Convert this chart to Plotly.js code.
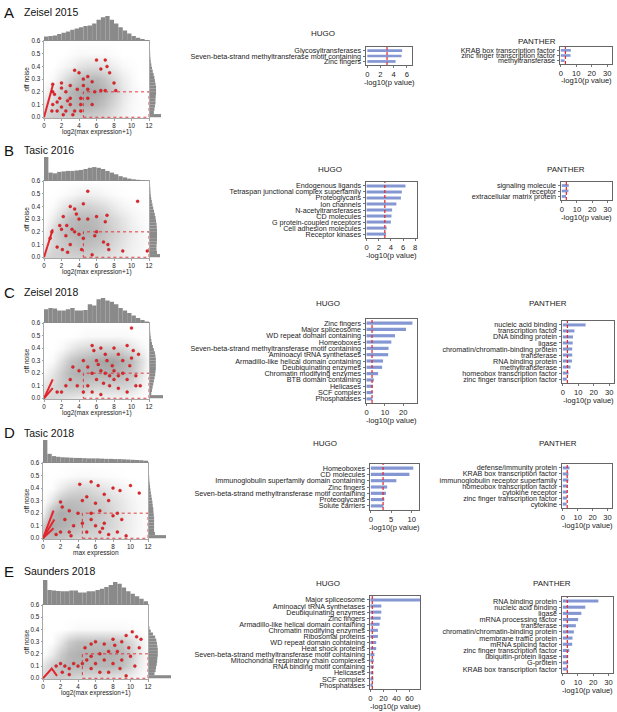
<!DOCTYPE html>
<html><head><meta charset="utf-8">
<script src="https://cdn.plot.ly/plotly-3.0.1.min.js"></script>
<style>html,body{margin:0;padding:0;background:#fff;}#chart{width:617px;height:712px;}</style>
</head><body><div id="chart"></div>
<script>
// ---------------- DATA ----------------
const panelLetters = ['A','B','C','D','E'];
const datasetTitles = ['Zeisel 2015','Tasic 2016','Zeisel 2018','Tasic 2018','Saunders 2018'];
const scatterXTitles = ['log2(max expression+1)','log2(max expression+1)','log2(max expression+1)','max expression','log2(max expression+1)'];
const scatterYTitle = 'off noise';
const scatterXTicks = [0,2,4,6,8,10,12];
const scatterYTicks = [0,0.1,0.2,0.3,0.4,0.5,0.6];
const exprThreshold = 4.5;
const noiseThreshold = 0.2;
const pThreshold = 3;
const barXTitle = '-log10(p value)';

// density of the grey point cloud (rows: off noise, cols: expression)
const cloudX = [0,1,2,3,4,5,6,7,8,9,10,11,12];
const cloudY = [0,0.1,0.2,0.3,0.4,0.5,0.6];
const cloudA = [
 [0.3,0.4,0.4,0.4,0.4,0.4,0.35,0.3,0.2,0.1,0.05,0,0],
 [0.2,0.3,0.45,0.55,0.6,0.6,0.55,0.45,0.3,0.15,0.05,0.02,0],
 [0.05,0.2,0.4,0.55,0.65,0.7,0.65,0.55,0.4,0.2,0.08,0.02,0],
 [0,0.05,0.2,0.35,0.5,0.55,0.55,0.45,0.3,0.15,0.05,0,0],
 [0,0,0.05,0.1,0.2,0.25,0.25,0.2,0.12,0.05,0.02,0,0],
 [0,0,0,0.02,0.05,0.05,0.05,0.05,0.02,0,0,0,0],
 [0,0,0,0,0,0,0,0,0,0,0,0,0]];
const cloudB = [
 [0.3,0.35,0.35,0.35,0.35,0.35,0.3,0.25,0.2,0.15,0.1,0.05,0.02],
 [0.15,0.3,0.4,0.45,0.5,0.5,0.45,0.4,0.3,0.2,0.12,0.08,0.03],
 [0.05,0.3,0.45,0.55,0.6,0.6,0.55,0.45,0.35,0.25,0.15,0.08,0.03],
 [0,0.15,0.35,0.5,0.55,0.55,0.5,0.4,0.3,0.2,0.1,0.05,0.02],
 [0,0.03,0.15,0.25,0.35,0.35,0.3,0.25,0.15,0.08,0.04,0.02,0],
 [0,0,0.02,0.05,0.1,0.12,0.1,0.06,0.03,0.01,0,0,0],
 [0,0,0,0,0,0,0,0,0,0,0,0,0]];
const cloudC = [
 [0.3,0.3,0.25,0.2,0.15,0.1,0.1,0.1,0.1,0.08,0.05,0.02,0],
 [0.2,0.3,0.4,0.45,0.45,0.4,0.35,0.35,0.35,0.35,0.3,0.15,0.02],
 [0.05,0.2,0.4,0.55,0.6,0.6,0.6,0.6,0.6,0.55,0.45,0.25,0.03],
 [0,0.05,0.25,0.45,0.55,0.6,0.65,0.7,0.7,0.6,0.5,0.3,0.05],
 [0,0,0.05,0.15,0.25,0.3,0.35,0.35,0.35,0.3,0.2,0.1,0.02],
 [0,0,0,0,0.02,0.05,0.05,0.05,0.05,0.05,0.03,0.01,0],
 [0,0,0,0,0,0,0,0,0,0,0,0,0]];
const cloudD = [
 [0.5,0.5,0.45,0.4,0.35,0.3,0.3,0.25,0.2,0.15,0.1,0.05,0.02],
 [0.4,0.65,0.6,0.55,0.5,0.45,0.4,0.35,0.3,0.2,0.12,0.06,0.02],
 [0.1,0.55,0.65,0.6,0.55,0.5,0.45,0.4,0.3,0.2,0.12,0.06,0.02],
 [0,0.2,0.45,0.5,0.5,0.45,0.4,0.35,0.25,0.18,0.1,0.05,0.02],
 [0,0.02,0.15,0.25,0.3,0.3,0.25,0.2,0.15,0.1,0.05,0.02,0],
 [0,0,0.01,0.03,0.05,0.05,0.04,0.03,0.02,0.01,0,0,0],
 [0,0,0,0,0,0,0,0,0,0,0,0,0]];
const cloudE = [
 [0.3,0.4,0.4,0.35,0.3,0.25,0.25,0.25,0.2,0.15,0.1,0.05,0],
 [0.2,0.4,0.5,0.55,0.55,0.55,0.55,0.55,0.55,0.5,0.35,0.15,0.02],
 [0,0.15,0.4,0.55,0.6,0.6,0.6,0.6,0.6,0.55,0.4,0.2,0.02],
 [0,0.02,0.2,0.4,0.5,0.5,0.5,0.5,0.5,0.45,0.3,0.15,0.02],
 [0,0,0,0.02,0.05,0.05,0.05,0.05,0.05,0.05,0.03,0.01,0],
 [0,0,0,0,0,0,0,0,0,0,0,0,0],
 [0,0,0,0,0,0,0,0,0,0,0,0,0]];

// highlighted (red) genes
const redXA = [1.0,1.2,1.5,1.5,1.8,2.0,2.0,2.0,2.2,2.5,2.5,2.7,3.0,3.0,3.0,3.3,3.5,3.5,3.8,4.0,4.2,4.2,4.2,4.5,4.5,5.0,5.0,5.0,5.5,5.5,5.8,6.0,6.5,6.5,7.0,7.0,7.2,7.5,8.0,8.2,1.0,1.0,0.9];
const redYA = [0.26,0.18,0.12,0.05,0.15,0.23,0.08,0.27,0.02,0.20,0.05,0.13,0.25,0.10,0.15,0.02,0.37,0.05,0.22,0.35,0.15,0.10,0.05,0.30,0.25,0.32,0.22,0.15,0.28,0.10,0.20,0.45,0.38,0.21,0.45,0.21,0.40,0.35,0.27,0.21,0.10,0.20,0.05];
const redXB = [5.0,10.7,4.5,3.0,3.5,2.2,4.0,5.0,6.0,7.2,7.0,1.8,2.0,2.6,3.2,3.5,2.5,4.0,4.5,5.8,6.0,6.8,7.4,7.3,9.0,11.8,3.0,2.1,1.5,4.3,5.5,0.7,0.9,3.7,2.7];
const redYB = [0.52,0.44,0.42,0.40,0.38,0.32,0.30,0.30,0.32,0.33,0.28,0.25,0.22,0.25,0.22,0.20,0.17,0.18,0.15,0.17,0.20,0.12,0.06,0.10,0.05,0.05,0.10,0.06,0.08,0.06,0.02,0.15,0.20,0.34,0.04];
const redXC = [10.0,5.5,6.5,7.0,8.0,9.5,10.2,5.7,4.5,6.0,7.2,8.5,9.0,10.0,3.3,4.0,5.0,5.5,6.5,7.0,7.5,8.0,8.5,9.0,9.5,10.5,6.0,6.8,7.5,8.5,9.5,10.5,5.0,4.5,3.0,2.5,2.0,1.5,5.5,6.5,8.0,3.8,7.8,6.2,9.8,11.0,10.8];
const redYC = [0.56,0.42,0.40,0.35,0.40,0.42,0.38,0.38,0.30,0.30,0.30,0.35,0.30,0.32,0.25,0.22,0.25,0.20,0.22,0.20,0.18,0.22,0.18,0.20,0.15,0.18,0.15,0.12,0.10,0.08,0.05,0.10,0.10,0.05,0.15,0.10,0.05,0.05,0.05,0.03,0.15,0.10,0.26,0.27,0.26,0.10,0.35];
const redXD = [4.2,5.5,6.3,8.0,8.8,10.0,11.0,7.0,5.0,4.5,6.0,7.5,2.0,2.2,3.0,4.0,5.5,6.5,8.0,8.5,9.0,7.0,6.0,5.0,6.5,7.5,8.5,9.5,2.0,3.0,3.5,4.5,5.5,6.8,2.5,1.5,3.2];
const redYD = [0.43,0.45,0.42,0.40,0.38,0.42,0.36,0.35,0.33,0.30,0.28,0.30,0.29,0.25,0.22,0.20,0.20,0.22,0.18,0.20,0.15,0.12,0.10,0.05,0.05,0.03,0.05,0.02,0.05,0.05,0.10,0.12,0.15,0.08,0.15,0.03,0.02];
const redXE = [10.2,9.5,10.7,8.0,9.0,7.0,6.0,11.0,9.8,8.5,7.5,6.5,5.5,5.0,4.5,6.0,7.0,8.0,9.0,10.0,10.5,8.8,7.5,9.5,6.5,5.5,4.0,3.5,3.0,2.5,2.0,1.5,2.2,3.0,4.8,5.5,11.2,8.2];
const redYE = [0.38,0.35,0.34,0.32,0.30,0.28,0.30,0.25,0.25,0.22,0.22,0.20,0.18,0.15,0.12,0.12,0.15,0.12,0.15,0.18,0.10,0.08,0.05,0.02,0.05,0.08,0.10,0.12,0.08,0.10,0.12,0.10,0.05,0.03,0.25,0.28,0.32,0.27];
// dense red streaks near the origin
const streakXA = [0,1.0], streakYA = [0,0.25];
const streakXB = [0,1.0], streakYB = [0,0.22];
const streakXC = [0,1.0,null,0,1.0], streakYC = [0,0.15,null,0,0.08];
const streakXD = [0,1.2,null,0,1.3,null,0,1.2], streakYD = [0,0.22,null,0,0.15,null,0,0.08];
const streakXE = [0,1.0,1.6], streakYE = [0,0.08,0.02];

// marginal histograms (relative heights)
const histXCenters = [0.25,0.75,1.25,1.75,2.25,2.75,3.25,3.75,4.25,4.75,5.25,5.75,6.25,6.75,7.25,7.75,8.25,8.75,9.25,9.75,10.25,10.75,11.25,11.75];
const histYCenters = [0.0125,0.0375,0.0625,0.0875,0.1125,0.1375,0.1625,0.1875,0.2125,0.2375,0.2625,0.2875,0.3125,0.3375,0.3625,0.3875,0.4125,0.4375,0.4625,0.4875,0.5125,0.5375,0.5625,0.5875];
const topHistA = [0.18,0.2,0.22,0.28,0.33,0.38,0.45,0.5,0.55,0.6,0.62,0.7,0.85,0.95,1.0,0.85,0.7,0.55,0.42,0.3,0.2,0.13,0.08,0.04];
const topHistB = [1.0,0.35,0.32,0.38,0.4,0.42,0.42,0.44,0.46,0.5,0.55,0.58,0.55,0.5,0.42,0.35,0.28,0.2,0.15,0.1,0.07,0.05,0.03,0.02];
const topHistC = [0.55,0.6,0.58,0.5,0.5,0.55,0.6,0.5,0.5,0.52,0.75,0.7,0.95,1.0,0.9,0.85,0.75,0.6,0.5,0.4,0.3,0.2,0.12,0.06];
const topHistD = [1.0,0.4,0.3,0.27,0.25,0.24,0.23,0.22,0.22,0.21,0.2,0.2,0.2,0.19,0.18,0.18,0.17,0.17,0.16,0.15,0.14,0.13,0.12,0.1];
const topHistE = [1.0,0.6,0.58,0.56,0.55,0.55,0.58,0.58,0.5,0.5,0.55,0.55,0.6,0.65,0.72,0.8,0.92,0.85,0.7,0.55,0.45,0.35,0.25,0.15];
const rightHistA = [1.0,0.35,0.4,0.45,0.5,0.5,0.52,0.55,0.55,0.55,0.5,0.45,0.4,0.33,0.25,0.18,0.12,0.07,0.04,0.02,0.01,0,0,0];
const rightHistB = [1.0,0.7,0.65,0.65,0.68,0.7,0.7,0.7,0.7,0.68,0.65,0.6,0.55,0.48,0.4,0.32,0.25,0.18,0.12,0.08,0.05,0.03,0.01,0];
const rightHistC = [1.0,0.1,0.15,0.2,0.25,0.3,0.35,0.4,0.42,0.45,0.45,0.45,0.45,0.42,0.38,0.3,0.22,0.15,0.1,0.06,0.03,0.01,0,0];
const rightHistD = [1.0,0.35,0.3,0.3,0.3,0.3,0.3,0.28,0.26,0.25,0.22,0.2,0.17,0.14,0.11,0.08,0.06,0.04,0.02,0.01,0,0,0,0];
const rightHistE = [1.0,0.25,0.3,0.32,0.35,0.37,0.38,0.4,0.4,0.4,0.38,0.36,0.33,0.28,0.18,0.08,0.02,0,0,0,0,0,0,0];

// enrichment bars
const hugoLabelsA = ['Glycosyltransferases','Seven-beta-strand methyltransferase motif containing','Zinc fingers'];
const hugoValuesA = [5.3,5.2,4.3];
const pantherLabelsA = ['KRAB box transcription factor','zinc finger transcription factor','methyltransferase'];
const pantherValuesA = [6.5,6.3,2.5];
const hugoLabelsB = ['Endogenous ligands','Tetraspan junctional complex superfamily','Proteoglycans','Ion channels','N-acetyltransferases','CD molecules','G protein-coupled receptors','Cell adhesion molecules','Receptor kinases'];
const hugoValuesB = [6.4,5.8,5.65,4.9,4.2,4.1,4.0,3.3,3.2];
const pantherLabelsB = ['signaling molecule','receptor','extracellular matrix protein'];
const pantherValuesB = [4.6,4.4,2.8];
const hugoLabelsC = ['Zinc fingers','Major spliceosome','WD repeat domain containing','Homeoboxes','Seven-beta-strand methyltransferase motif containing','Aminoacyl tRNA synthetases','Armadillo-like helical domain containing','Deubiquinating enzymes','Chromatin modifying enzymes','BTB domain containing','Helicases','SCF complex','Phosphatases'];
const hugoValuesC = [25,21.5,15.5,13.5,12,11.8,9,8.5,6.3,4,3.5,3.3,3.2];
const pantherLabelsC = ['nucleic acid binding','transcription factor','DNA binding protein','ligase','chromatin/chromatin-binding protein','transferase','RNA binding protein','methyltransferase','homeobox transcription factor','zinc finger transcription factor'];
const pantherValuesC = [14.7,7.5,6.6,6.4,6.1,6.1,5.9,5.0,3.7,2.6];
const hugoLabelsD = ['Homeoboxes','CD molecules','Immunoglobulin superfamily domain containing','Zinc fingers','Seven-beta-strand methyltransferase motif containing','Proteoglycans','Solute carriers'];
const hugoValuesD = [10.4,9.45,6.25,4.0,3.7,3.3,3.1];
const pantherLabelsD = ['defense/immunity protein','KRAB box transcription factor','immunoglobulin receptor superfamily','homeobox transcription factor','cytokine receptor','zinc finger transcription factor','cytokine'];
const pantherValuesD = [4.5,3.8,3.8,3.4,3.0,2.8,2.6];
const hugoLabelsE = ['Major spliceosome','Aminoacyl tRNA synthetases','Deubiquinating enzymes','Zinc fingers','Armadillo-like helical domain containing','Chromatin modifying enzymes','Ribosomal proteins','WD repeat domain containing','Heat shock proteins','Seven-beta-strand methyltransferase motif containing','Mitochondrial respiratory chain complexes','RNA binding motif containing','Helicases','SCF complex','Phosphatases'];
const hugoValuesE = [77,16.8,16.8,15.8,14.2,11.6,11.6,9,9,6.3,5.3,5.3,4.7,4.7,3.7];
const pantherLabelsE = ['RNA binding protein','nucleic acid binding','ligase','mRNA processing factor','transferase','chromatin/chromatin-binding protein','membrane traffic protein','mRNA splicing factor','zinc finger transcription factor','ubiquitin-protein ligase','G-protein','KRAB box transcription factor'];
const pantherValuesE = [23.4,14.8,12.2,10.1,8.6,7.3,6.4,6.2,4.3,3.6,3.6,3.2];
const hugoTicksA = [0,2,4,6], hugoTicksB = [0,2,4,6,8], hugoTicksC = [0,10,20], hugoTicksD = [0,5,10], hugoTicksE = [0,20,40,60];
const pantherTicks = [0,10,20,30];

// ---------------- LAYOUT (positions in px) ----------------
const W = 617, H = 712;
const geom = [
 {letterY:12, titleY:12, scatter:[44,149,41,118], histH:25, rightW:11, hugo:[366,412,47,65], hugoRange:[-0.2,6.8], hugoTitle:[323,34], panther:[560,612,47,64], pantherTitle:[537,41]},
 {letterY:150, titleY:150, scatter:[44,149,181,258], histH:24, rightW:10, hugo:[366,417,182,238], hugoRange:[-0.1,8.3], hugoTitle:[330,170], panther:[561,612,182,200], pantherTitle:[566,170]},
 {letterY:292, titleY:292, scatter:[44,149,323,399], histH:25, rightW:13, hugo:[366,417,319,403], hugoRange:[-0.3,27.5], hugoTitle:[328,303], panther:[562,614,321,383], pantherTitle:[548,303]},
 {letterY:433, titleY:433, scatter:[43,148,463,539], histH:23, rightW:17, hugo:[370,419,464,510], hugoRange:[-0.2,11.8], hugoTitle:[325,443], panther:[562,612,464,508], pantherTitle:[558,443]},
 {letterY:571, titleY:571, scatter:[43,148,605,679], histH:25, rightW:22, hugo:[370,420,596,689], hugoRange:[-0.5,76], hugoTitle:[328,583], panther:[562,613,597,673], pantherTitle:[552,583]}
];
const panels = [
 {cloud:cloudA, rx:redXA, ry:redYA, sx:streakXA, sy:streakYA, top:topHistA, right:rightHistA, hl:hugoLabelsA, hv:hugoValuesA, ht:hugoTicksA, pl:pantherLabelsA, pv:pantherValuesA},
 {cloud:cloudB, rx:redXB, ry:redYB, sx:streakXB, sy:streakYB, top:topHistB, right:rightHistB, hl:hugoLabelsB, hv:hugoValuesB, ht:hugoTicksB, pl:pantherLabelsB, pv:pantherValuesB},
 {cloud:cloudC, rx:redXC, ry:redYC, sx:streakXC, sy:streakYC, top:topHistC, right:rightHistC, hl:hugoLabelsC, hv:hugoValuesC, ht:hugoTicksC, pl:pantherLabelsC, pv:pantherValuesC},
 {cloud:cloudD, rx:redXD, ry:redYD, sx:streakXD, sy:streakYD, top:topHistD, right:rightHistD, hl:hugoLabelsD, hv:hugoValuesD, ht:hugoTicksD, pl:pantherLabelsD, pv:pantherValuesD},
 {cloud:cloudE, rx:redXE, ry:redYE, sx:streakXE, sy:streakYE, top:topHistE, right:rightHistE, hl:hugoLabelsE, hv:hugoValuesE, ht:hugoTicksE, pl:pantherLabelsE, pv:pantherValuesE}
];

const RED = '#e3262d';
const BAR = '#8597d3';
const GREY = '#8a8a8a';
const FONT = 'Liberation Sans, Arial, sans-serif';
const traces = [];
const layout = {width:W, height:H, margin:{l:0,r:0,t:0,b:0}, showlegend:false,
  paper_bgcolor:'#fff', plot_bgcolor:'rgba(0,0,0,0)', font:{family:FONT, size:8, color:'#222'},
  annotations:[], shapes:[]};
let nAx = 0;
function dx(l,r){return [l/W, r/W];}
function dy(t,b){return [1-b/H, 1-t/H];}
function addAxes(xd, yd, xo, yo){
  nAx++; const s = nAx===1 ? '' : String(nAx);
  layout['xaxis'+s] = Object.assign({domain:xd, anchor:'y'+s, fixedrange:true}, xo);
  layout['yaxis'+s] = Object.assign({domain:yd, anchor:'x'+s, fixedrange:true}, yo);
  return {x:'x'+s, y:'y'+s};
}
const hidden = {visible:false, showgrid:false, zeroline:false};
function ann(x, y, text, o){
  layout.annotations.push(Object.assign({xref:'paper', yref:'paper', x:x/W, y:1-y/H, text:text, showarrow:false,
    xanchor:'center', yanchor:'middle', font:{size:8, family:FONT, color:'#222'}}, o||{}));
}

panels.forEach((p, i) => {
  const g = geom[i];
  const [sl, sr, st, sb] = g.scatter;
  ann(2, g.letterY, panelLetters[i], {xanchor:'left', font:{size:15, family:FONT, color:'#111'}});
  ann(22, g.titleY, datasetTitles[i], {xanchor:'left', font:{size:10.5, family:FONT, color:'#111'}});

  // scatter
  const yRange = [-0.006, 0.6];
  const sc = addAxes(dx(sl,sr), dy(st,sb),
    {range:[0,12], tickvals:scatterXTicks, ticks:'outside', ticklen:1.5, tickwidth:0.7, tickcolor:'#777',
     tickfont:{size:6.3}, showline:true, mirror:true, linecolor:'#a8a8a8', linewidth:1, showgrid:false, zeroline:false},
    {range:yRange, tickvals:scatterYTicks, tickformat:'.1f', ticks:'outside', ticklen:1.5, tickwidth:0.7, tickcolor:'#777',
     tickfont:{size:6.3}, showline:true, mirror:true, linecolor:'#a8a8a8', linewidth:1, showgrid:false, zeroline:false});
  traces.push({type:'heatmap', x:cloudX, y:cloudY, z:p.cloud, zsmooth:'best', zmin:0, zmax:1.35,
    colorscale:[[0,'rgb(255,255,255)'],[1,'rgb(80,80,80)']], showscale:false, hoverinfo:'skip', xaxis:sc.x, yaxis:sc.y});
  traces.push({type:'scatter', mode:'lines', x:p.sx, y:p.sy, line:{color:RED, width:2}, xaxis:sc.x, yaxis:sc.y, hoverinfo:'skip'});
  traces.push({type:'scatter', mode:'markers', x:p.rx, y:p.ry, xaxis:sc.x, yaxis:sc.y,
    marker:{size:3, color:RED, line:{width:0.3, color:'#a00000'}}, hoverinfo:'skip'});
  layout.shapes.push({type:'rect', xref:sc.x, yref:sc.y, x0:exprThreshold, x1:12, y0:0, y1:noiseThreshold,
    line:{color:RED, width:0.9, dash:'dot'}});
  ann((sl+sr)/2, sb+14, scatterXTitles[i], {font:{size:6.5, family:FONT, color:'#222'}});
  ann(26, (st+sb)/2, scatterYTitle, {textangle:-90, font:{size:6.5, family:FONT, color:'#222'}});

  // top histogram
  const th = addAxes(dx(sl,sr), dy(st-g.histH, st), Object.assign({range:[0,12]}, hidden), Object.assign({range:[0,1]}, hidden));
  traces.push({type:'bar', x:histXCenters, y:p.top, width:0.5, marker:{color:GREY, line:{width:0}}, xaxis:th.x, yaxis:th.y, hoverinfo:'skip'});
  // right histogram
  const rh = addAxes(dx(sr+1, sr+1+g.rightW), dy(st,sb), Object.assign({range:[0,1]}, hidden), Object.assign({range:yRange}, hidden));
  traces.push({type:'bar', orientation:'h', y:histYCenters, x:p.right, width:0.025, marker:{color:GREY, line:{width:0}}, xaxis:rh.x, yaxis:rh.y, hoverinfo:'skip'});

  // enrichment bars
  const mkBars = (box, labels, values, range, ticks, title, tpos) => {
    const [l, r, t, b] = box;
    const n = labels.length;
    const ax = addAxes(dx(l,r), dy(t,b),
      {range:range, tickvals:ticks, ticks:'outside', ticklen:2, tickwidth:0.8, tickcolor:'#555', tickfont:{size:7.6},
       showline:true, mirror:true, linecolor:'#666', linewidth:1, showgrid:false, zeroline:false},
      {type:'category', categoryorder:'array', categoryarray:labels, tickmode:'array', tickvals:labels, ticktext:labels,
       range:[n-0.35, -0.65], ticks:'outside', ticklen:2.5,
       tickwidth:0.8, tickcolor:'#555', tickfont:{size:7.2}, showline:true, mirror:true, linecolor:'#666', linewidth:1,
       showgrid:false, zeroline:false});
    traces.push({type:'bar', orientation:'h', y:labels, x:values, width:0.5, marker:{color:BAR, line:{width:0}},
      xaxis:ax.x, yaxis:ax.y, hoverinfo:'skip', cliponaxis:true});
    layout.shapes.push({type:'line', xref:ax.x, yref:ax.y+' domain', x0:pThreshold, x1:pThreshold, y0:0, y1:1,
      line:{color:RED, width:1.2, dash:'3px,2px'}});
    ann((l+r)/2, Math.min(b+17, 707), barXTitle, {font:{size:7.6, family:FONT, color:'#222'}});
    ann(tpos[0], tpos[1], title, {font:{size:8, family:FONT, color:'#222'}});
  };
  mkBars(g.hugo, p.hl, p.hv, g.hugoRange, p.ht, 'HUGO', g.hugoTitle);
  mkBars(g.panther, p.pl, p.pv, [-0.5,33], pantherTicks, 'PANTHER', g.pantherTitle);
});

Plotly.newPlot('chart', traces, layout, {staticPlot:true, displayModeBar:false});
</script></body></html>
